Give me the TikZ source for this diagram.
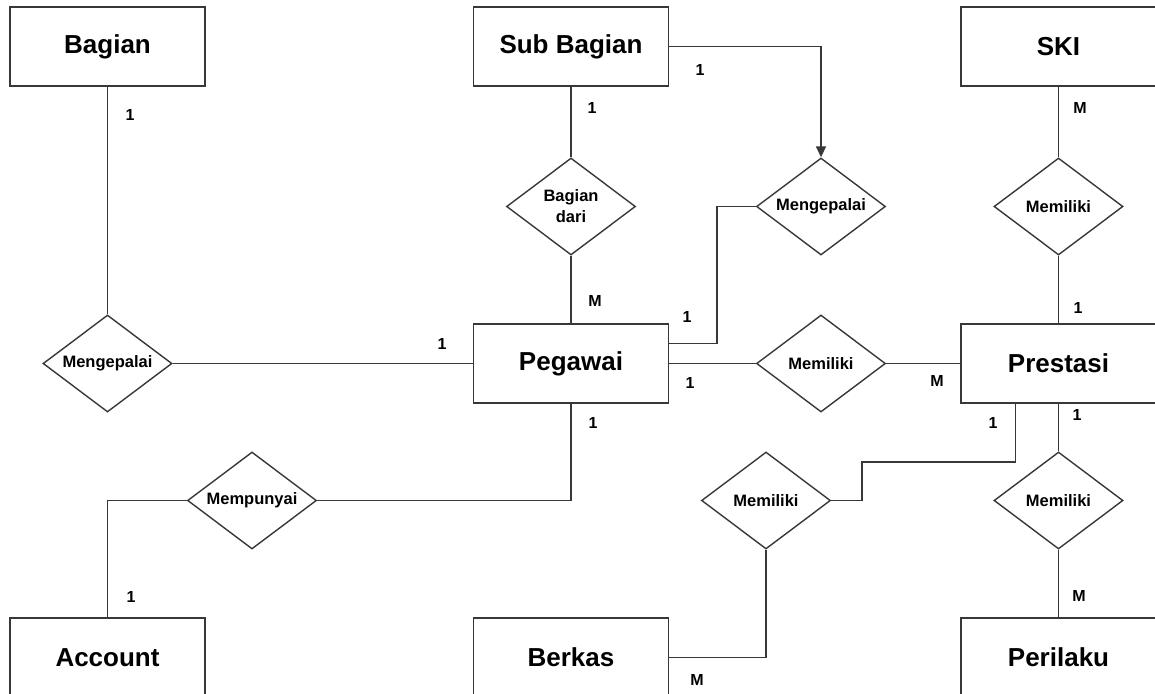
\documentclass[tikz,border=0pt]{standalone}
\usepackage{fontspec}
\setmainfont{Liberation Sans}
\usetikzlibrary{shapes.geometric,arrows.meta}
\definecolor{edge}{HTML}{383838}
\begin{document}
\begin{tikzpicture}[x=1pt,y=-1pt,
  entity/.style={draw=edge,line width=1.8pt,fill=white,minimum width=195pt,minimum height=79pt,inner sep=0pt,
    font=\fontsize{26}{28}\selectfont\bfseries},
  relation/.style={draw=edge,line width=1.4pt,fill=white,shape=diamond,aspect=1.33,inner sep=0pt,
    minimum width=129pt,minimum height=97pt,align=center,font=\fontsize{16.5}{21}\selectfont\bfseries},
  link/.style={draw=edge,line width=1.8pt},
  card/.style={font=\fontsize{16}{18}\selectfont\bfseries,inner sep=0pt}]
\useasboundingbox (0,0) rectangle (1155,693);
\clip (0,0) rectangle (1155,693);

% entities
\node[entity] (bagian)   at (107.5,46.5)  {Bagian};
\node[entity] (subbag)   at (571,46.5)    {Sub Bagian};
\node[entity] (ski)      at (1058.5,46.5) {SKI};
\node[entity] (pegawai)  at (571,363.5)   {Pegawai};
\node[entity] (prestasi) at (1058.5,363.5){Prestasi};
\node[entity] (account)  at (107.5,657.5) {Account};
\node[entity] (berkas)   at (571,657.5)   {Berkas};
\node[entity] (perilaku) at (1058.5,657.5){Perilaku};

% relationships
\node[relation] (mengB)   at (107.5,363.5) {Mengepalai};
\node[relation] (bagdari) at (571,206.5)   {Bagian\\dari};
\node[relation] (mengS)   at (821,206.5)   {Mengepalai};
\node[relation] (memS)    at (1058.5,206.5){Memiliki};
\node[relation] (memPg)   at (821,363.5)   {Memiliki};
\node[relation] (memPr)   at (1058.5,500.5){Memiliki};
\node[relation] (memB)    at (766,500.5)   {Memiliki};
\node[relation] (mempun)  at (252,500.5)   {Mempunyai};

% bend points
\coordinate (bendA) at (717,206.5);
\coordinate (bendB) at (862,462);

% connectors
\draw[link] (bagian.south) -- (mengB.north);
\draw[link] (mengB.east) -- (pegawai.west);
\draw[link] (subbag.south) -- (bagdari.north);
\draw[link] (bagdari.south) -- (pegawai.north);
\draw[link,-{Triangle[length=11pt,width=10pt]}] (subbag.east) -| (mengS.north);
\draw[link] ([yshift=20pt]pegawai.east) -| (bendA) -- (mengS.west);
\draw[link] (pegawai.east) -- (memPg.west);
\draw[link] (memPg.east) -- (prestasi.west);
\draw[link] (ski.south) -- (memS.north);
\draw[link] (memS.south) -- (prestasi.north);
\draw[link] (prestasi.south) -- (memPr.north);
\draw[link] (memPr.south) -- (perilaku.north);
\draw[link] ([xshift=-43pt]prestasi.south) |- (bendB) |- (memB.east);
\draw[link] (memB.south) |- (berkas.east);
\draw[link] (mempun.west) -| (account.north);
\draw[link] (mempun.east) -| (pegawai.south);

% cardinalities
\node[card] (c1)  at (130,115) {1};
\node[card] (c2)  at (442,344) {1};
\node[card] (c3)  at (592,108) {1};
\node[card] (c4)  at (595,301) {M};
\node[card] (c5)  at (700,70)  {1};
\node[card] (c6)  at (687,317) {1};
\node[card] (c7)  at (690,383) {1};
\node[card] (c8)  at (937,381) {M};
\node[card] (c9)  at (1080,108){M};
\node[card] (c10) at (1078,308){1};
\node[card] (c11) at (1077,415){1};
\node[card] (c12) at (993,423) {1};
\node[card] (c13) at (1079,596){M};
\node[card] (c14) at (697,680) {M};
\node[card] (c15) at (131,597) {1};
\node[card] (c16) at (593,423) {1};
\end{tikzpicture}
\end{document}
